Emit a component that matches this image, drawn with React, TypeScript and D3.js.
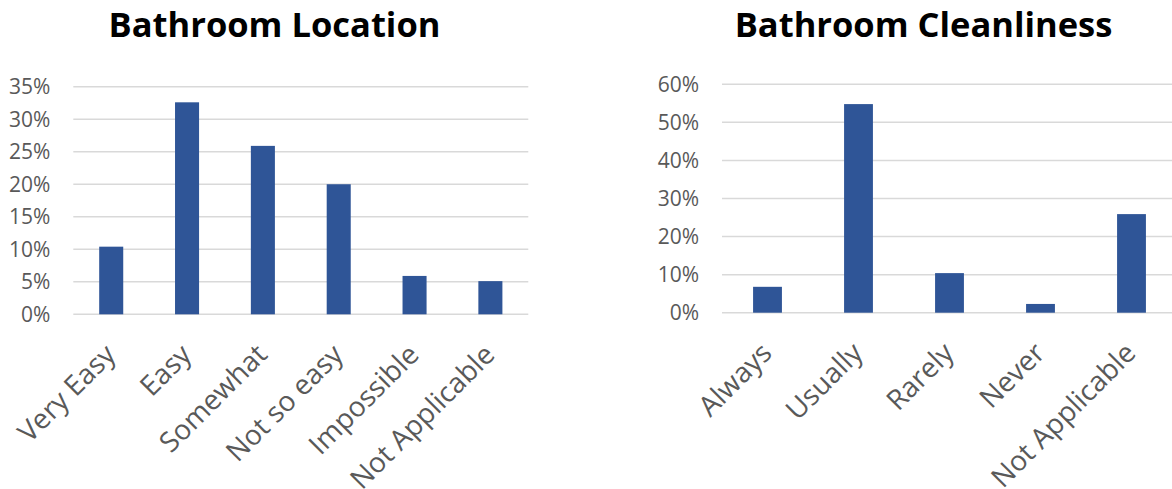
import React from "react";
import * as d3 from "d3";

const locationCategories = ["Very Easy", "Easy", "Somewhat", "Not so easy", "Impossible", "Not Applicable"];
const locationValues = [0.104, 0.326, 0.259, 0.2, 0.059, 0.051];
const locationTicks = [0, 0.05, 0.1, 0.15, 0.2, 0.25, 0.3, 0.35];

const cleanCategories = ["Always", "Usually", "Rarely", "Never", "Not Applicable"];
const cleanValues = [0.068, 0.548, 0.104, 0.023, 0.259];
const cleanTicks = [0, 0.1, 0.2, 0.3, 0.4, 0.5, 0.6];

const FONT = "'Open Sans', 'Noto Sans', sans-serif";
const BAR = "#2f5597";
const GRID = "#d9d9d9";
const TXT = "#595959";

type PanelProps = {
  title: string;
  titleX: number;
  categories: string[];
  values: number[];
  ticks: number[];
  x0: number;
  x1: number;
  yTop: number;
  yBottom: number;
  yMax: number;
};

function Panel(p: PanelProps) {
  const x = d3.scaleBand<string>().domain(p.categories).range([p.x0, p.x1]).paddingInner(0.683).paddingOuter(0.3415);
  const y = d3.scaleLinear().domain([0, p.yMax]).range([p.yBottom, p.yTop]);
  const fmt = d3.format(".0%");
  return (
    <g>
      <text x={p.titleX} y={37} textAnchor="middle" fontFamily={FONT} fontWeight={700} fontSize={34.5} fill="#000">
        {p.title}
      </text>
      {p.ticks.map((t) => (
        <g key={t}>
          <line x1={p.x0} x2={p.x1} y1={y(t)} y2={y(t)} stroke={GRID} strokeWidth={1.5} />
          <text x={p.x0 - 23} y={y(t)} dy="0.35em" textAnchor="end" fontFamily={FONT} fontSize={21} fill={TXT}>
            {fmt(t)}
          </text>
        </g>
      ))}
      {p.categories.map((c, i) => (
        <rect key={c} x={x(c)} y={y(p.values[i])} width={x.bandwidth()} height={y(0) - y(p.values[i])} fill={BAR} />
      ))}
      {p.categories.map((c) => {
        const cx = (x(c) as number) + x.bandwidth() / 2;
        const ax = cx + 6;
        const ay = p.yBottom + 42;
        return (
          <text key={c} x={ax} y={ay} textAnchor="end" transform={`rotate(-45 ${ax} ${ay})`} fontFamily={FONT} fontSize={28} fill={TXT}>
            {c}
          </text>
        );
      })}
    </g>
  );
}

export default function App() {
  return (
    <svg width={1172} height={489} style={{ position: "absolute", left: 0, top: 0, background: "#fff" }}>
      <Panel
        title="Bathroom Location"
        titleX={274.5}
        categories={locationCategories}
        values={locationValues}
        ticks={locationTicks}
        x0={73.3}
        x1={528.3}
        yTop={86.7}
        yBottom={314.3}
        yMax={0.35}
      />
      <Panel
        title="Bathroom Cleanliness"
        titleX={923.5}
        categories={cleanCategories}
        values={cleanValues}
        ticks={cleanTicks}
        x0={722}
        x1={1177}
        yTop={84.3}
        yBottom={312.7}
        yMax={0.6}
      />
    </svg>
  );
}
